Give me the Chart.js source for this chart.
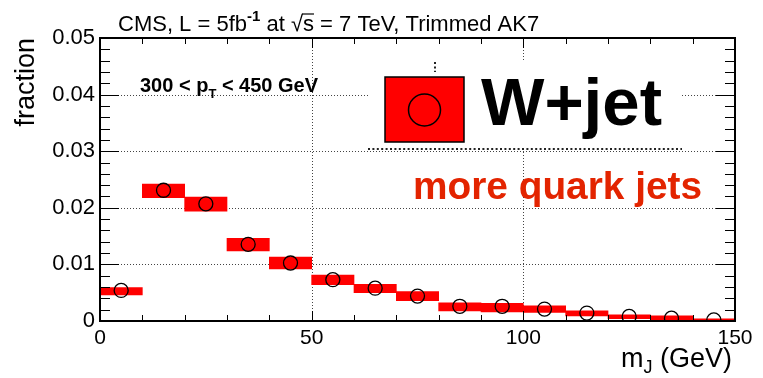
<!DOCTYPE html>
<html>
<head>
<meta charset="utf-8">
<script src="https://cdn.jsdelivr.net/npm/chart.js@4.4.1/dist/chart.umd.min.js"></script>
<style>
  html, body { margin: 0; padding: 0; background: #fff; }
  #wrap { width: 763px; height: 378px; }
</style>
</head>
<body>
<div id="wrap"><canvas id="chart" width="763" height="378"></canvas></div>
<script>
// m_J bins (GeV), 10 GeV wide
const binCenters = [5, 15, 25, 35, 45, 55, 65, 75, 85, 95, 105, 115, 125, 135, 145];
// W+jet fraction per bin (open circles)
const values   = [0.0054, 0.0231, 0.0207, 0.01355, 0.01025, 0.0073, 0.0058, 0.0044, 0.0026, 0.0026, 0.0021, 0.0014, 0.0008, 0.0005, 0.0002];
// red uncertainty band per bin
const bandLow  = [0.0046, 0.0218, 0.0194, 0.0124, 0.0092, 0.0064, 0.0050, 0.0036, 0.0018, 0.0016, 0.0015, 0.0009, 0.0004, 0.0002, 0.0000];
const bandHigh = [0.0059, 0.0242, 0.0219, 0.0146, 0.0113, 0.0081, 0.0065, 0.0052, 0.0032, 0.0031, 0.0027, 0.0018, 0.0011, 0.0009, 0.0004];
const xGridAt  = [50, 100];
const yGridAt  = [0.01, 0.02, 0.03, 0.04];

const FONT = "'Liberation Sans', Arial, Helvetica, sans-serif";
Chart.defaults.font.family = FONT;

function drawRuns(ctx, x, y, parts, align) {
    let total = 0;
    parts.forEach(p => { ctx.font = p.font; p.w = ctx.measureText(p.t).width; total += p.w; });
    let cx = align === "right" ? x - total : x;
    ctx.textAlign = "left";
    ctx.textBaseline = "alphabetic";
    parts.forEach(p => {
        ctx.font = p.font;
        ctx.fillText(p.t, cx, y + (p.dy || 0));
        if (p.over) {
            ctx.save();
            ctx.lineWidth = 1.2;
            ctx.beginPath();
            ctx.moveTo(cx - 1, y - p.over);
            ctx.lineTo(cx + p.w, y - p.over);
            ctx.stroke();
            ctx.restore();
        }
        cx += p.w;
    });
    return total;
}

function fitText(ctx, text, x, y, font, width, color) {
    ctx.save();
    ctx.font = font;
    ctx.fillStyle = color;
    ctx.textAlign = "left";
    ctx.textBaseline = "alphabetic";
    const w = ctx.measureText(text).width;
    ctx.translate(x, y);
    ctx.scale(width / w, 1);
    ctx.fillText(text, 0, 0);
    ctx.restore();
}

const rootFrame = {
    id: "rootFrame",
    beforeDatasetsDraw(chart) {
        const { ctx, chartArea: a, scales: { x, y } } = chart;
        ctx.save();
        ctx.strokeStyle = "#444";
        ctx.lineWidth = 1;
        ctx.setLineDash([1, 2]);
        yGridAt.forEach(v => {
            const py = Math.round(y.getPixelForValue(v)) + 0.5;
            ctx.beginPath(); ctx.moveTo(a.left, py); ctx.lineTo(a.right, py); ctx.stroke();
        });
        xGridAt.forEach(v => {
            const px = Math.round(x.getPixelForValue(v)) + 0.5;
            ctx.beginPath(); ctx.moveTo(px, a.top); ctx.lineTo(px, a.bottom); ctx.stroke();
        });
        ctx.restore();
    },
    afterDatasetsDraw(chart) {
        const { ctx, chartArea: a, scales: { x, y } } = chart;
        ctx.save();
        ctx.strokeStyle = "#000";
        ctx.lineWidth = 1;
        // y ticks, both sides
        for (let i = 0; i <= 25; i++) {
            const py = Math.round(y.getPixelForValue(i * 0.002)) + 0.5;
            const len = i % 5 === 0 ? 19 : 10;
            ctx.beginPath();
            ctx.moveTo(a.left, py); ctx.lineTo(a.left + len, py);
            ctx.moveTo(a.right, py); ctx.lineTo(a.right - len, py);
            ctx.stroke();
        }
        // x ticks, both sides
        for (let i = 0; i <= 15; i++) {
            const px = Math.round(x.getPixelForValue(i * 10)) + 0.5;
            const len = i % 5 === 0 ? 10 : 6;
            ctx.beginPath();
            ctx.moveTo(px, a.bottom); ctx.lineTo(px, a.bottom - len);
            ctx.moveTo(px, a.top); ctx.lineTo(px, a.top + len);
            ctx.stroke();
        }
        ctx.lineWidth = 2;
        ctx.strokeRect(a.left, a.top, a.right - a.left, a.bottom - a.top);

        // legend box
        ctx.fillStyle = "#fff";
        ctx.fillRect(368, 60, 314, 89);
        ctx.strokeStyle = "#222";
        ctx.lineWidth = 2;
        ctx.setLineDash([2, 2.4]);
        ctx.beginPath(); ctx.moveTo(368, 149); ctx.lineTo(682, 149); ctx.stroke();
        ctx.beginPath(); ctx.moveTo(435, 62); ctx.lineTo(435, 72); ctx.stroke();
        ctx.setLineDash([]);
        ctx.fillStyle = "#ff0000";
        ctx.fillRect(385, 77, 79, 65);
        ctx.strokeStyle = "#000";
        ctx.lineWidth = 1.5;
        ctx.strokeRect(385, 77, 79, 65);
        ctx.beginPath(); ctx.arc(424.5, 110, 16, 0, Math.PI * 2); ctx.stroke();
        fitText(ctx, "W+jet", 481, 125, "bold 66px " + FONT, 181, "#000");
        fitText(ctx, "more quark jets", 413, 199, "bold 39px " + FONT, 289, "#e32400");

        // texts
        ctx.fillStyle = "#000";
        ctx.strokeStyle = "#000";
        drawRuns(ctx, 118, 31, [
            { t: "CMS, L = 5fb", font: "22px " + FONT },
            { t: "-1", font: "bold 15px " + FONT, dy: -10 },
            { t: " at ", font: "22px " + FONT },
            { t: "\u221A", font: "22px " + FONT },
            { t: "s", font: "22px " + FONT, over: 17 },
            { t: " = 7 TeV, Trimmed AK7", font: "22px " + FONT }
        ]);
        drawRuns(ctx, 140, 92, [
            { t: "300 < p", font: "bold 20px " + FONT },
            { t: "T", font: "bold 13px " + FONT, dy: 6 },
            { t: " < 450 GeV", font: "bold 20px " + FONT }
        ]);
        drawRuns(ctx, 732, 367, [
            { t: "m", font: "27px " + FONT },
            { t: "J", font: "18px " + FONT, dy: 6 },
            { t: " (GeV)", font: "27px " + FONT }
        ], "right");

        ctx.translate(34, 38);
        ctx.rotate(-Math.PI / 2);
        ctx.font = "27px " + FONT;
        ctx.textAlign = "right";
        ctx.textBaseline = "alphabetic";
        ctx.fillText("fraction", 0, 0);
        ctx.restore();
    }
};

new Chart(document.getElementById("chart"), {
    type: "bar",
    data: {
        datasets: [
            {
                type: "scatter",
                data: binCenters.map((c, i) => ({ x: c, y: values[i] })),
                pointRadius: 7,
                pointHoverRadius: 7,
                pointBorderColor: "#000",
                pointBorderWidth: 1.3,
                pointBackgroundColor: "rgba(0,0,0,0)",
                showLine: false,
                order: 0
            },
            {
                type: "bar",
                data: binCenters.map((c, i) => ({ x: c, y: [bandLow[i], bandHigh[i]] })),
                backgroundColor: "#ff0000",
                borderWidth: 0,
                barPercentage: 1,
                categoryPercentage: 1,
                order: 1
            }
        ]
    },
    options: {
        responsive: false,
        animation: false,
        layout: { padding: { top: 38, right: 28, left: 0, bottom: 0 } },
        plugins: { legend: { display: false }, tooltip: { enabled: false } },
        scales: {
            x: {
                type: "linear",
                min: 0, max: 150,
                offset: false,
                grid: { display: false, drawTicks: false },
                border: { display: false },
                ticks: { stepSize: 50, padding: 5, color: "#000", font: { size: 21 } },
                afterFit(s) { s.height = 57; }
            },
            y: {
                type: "linear",
                min: 0, max: 0.05,
                grid: { display: false, drawTicks: false },
                border: { display: false },
                ticks: {
                    stepSize: 0.01, padding: 5, color: "#000", font: { size: 22 },
                    callback: v => v === 0 ? "0" : v.toFixed(2)
                },
                afterFit(s) { s.width = 100; }
            }
        }
    },
    plugins: [rootFrame]
});
</script>
</body>
</html>
